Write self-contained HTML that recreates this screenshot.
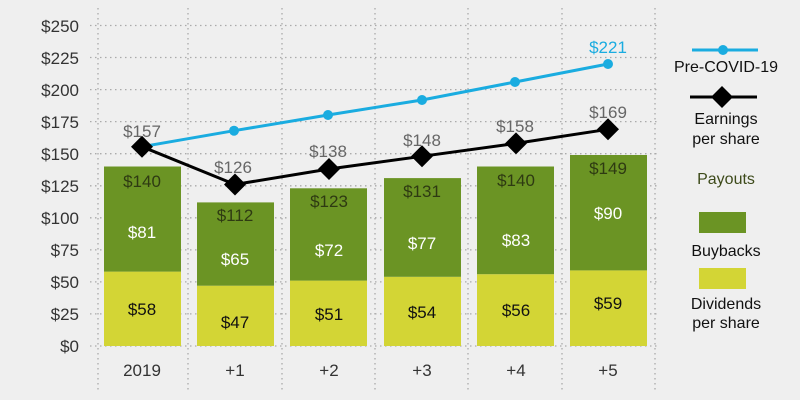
<!DOCTYPE html>
<html><head><meta charset="utf-8"><style>
html,body{margin:0;padding:0;background:#efefef;}
svg{display:block;font-family:"Liberation Sans",sans-serif;}
</style></head><body>
<svg width="800" height="400" viewBox="0 0 800 400" xmlns="http://www.w3.org/2000/svg">
<rect width="800" height="400" fill="#efefef"/>
<g stroke="#aaa" stroke-width="1.3" stroke-dasharray="1.5,3.5">
<line x1="90" y1="346" x2="658" y2="346"/>
<line x1="90" y1="313.9" x2="658" y2="313.9"/>
<line x1="90" y1="281.9" x2="658" y2="281.9"/>
<line x1="90" y1="249.9" x2="658" y2="249.9"/>
<line x1="90" y1="217.8" x2="658" y2="217.8"/>
<line x1="90" y1="185.8" x2="658" y2="185.8"/>
<line x1="90" y1="153.7" x2="658" y2="153.7"/>
<line x1="90" y1="121.6" x2="658" y2="121.6"/>
<line x1="90" y1="89.6" x2="658" y2="89.6"/>
<line x1="90" y1="57.5" x2="658" y2="57.5"/>
<line x1="90" y1="25.5" x2="658" y2="25.5"/>
<line x1="98" y1="8" x2="98" y2="390"/>
<line x1="188" y1="8" x2="188" y2="390"/>
<line x1="282" y1="8" x2="282" y2="390"/>
<line x1="375" y1="8" x2="375" y2="390"/>
<line x1="468" y1="8" x2="468" y2="390"/>
<line x1="562" y1="8" x2="562" y2="390"/>
<line x1="655" y1="8" x2="655" y2="390"/>
</g>
<g font-size="17" fill="#333" text-anchor="end">
<text x="79" y="352">$0</text>
<text x="79" y="320">$25</text>
<text x="79" y="288">$50</text>
<text x="79" y="256">$75</text>
<text x="79" y="224">$100</text>
<text x="79" y="192">$125</text>
<text x="79" y="160">$150</text>
<text x="79" y="128">$175</text>
<text x="79" y="96">$200</text>
<text x="79" y="64">$225</text>
<text x="79" y="32">$250</text>
</g>
<g font-size="17" fill="#333" text-anchor="middle">
<text x="142" y="376">2019</text>
<text x="235" y="376">+1</text>
<text x="329" y="376">+2</text>
<text x="422" y="376">+3</text>
<text x="516" y="376">+4</text>
<text x="608" y="376">+5</text>
</g>
<!-- bars -->
<g>
<rect x="104" y="271.6" width="77" height="74.4" fill="#d3d535"/>
<rect x="104" y="166.5" width="77" height="105.1" fill="#6b9424"/>
<rect x="197" y="285.7" width="77" height="60.3" fill="#d3d535"/>
<rect x="197" y="202.4" width="77" height="83.3" fill="#6b9424"/>
<rect x="290" y="280.6" width="77" height="65.4" fill="#d3d535"/>
<rect x="290" y="188.3" width="77" height="92.3" fill="#6b9424"/>
<rect x="384" y="276.8" width="77" height="69.2" fill="#d3d535"/>
<rect x="384" y="178.1" width="77" height="98.7" fill="#6b9424"/>
<rect x="477" y="274.2" width="77" height="71.8" fill="#d3d535"/>
<rect x="477" y="166.5" width="77" height="107.7" fill="#6b9424"/>
<rect x="570" y="270.4" width="77" height="75.6" fill="#d3d535"/>
<rect x="570" y="155" width="77" height="115.4" fill="#6b9424"/>
</g>
<g font-size="17" text-anchor="middle">
<g fill="#2e3a12">
<text x="142" y="187">$140</text>
<text x="235" y="221">$112</text>
<text x="329" y="207">$123</text>
<text x="422" y="197">$131</text>
<text x="516" y="186">$140</text>
<text x="608" y="174">$149</text>
</g>
<g fill="#fff">
<text x="142" y="238">$81</text>
<text x="235" y="265">$65</text>
<text x="329" y="256">$72</text>
<text x="422" y="249">$77</text>
<text x="516" y="246">$83</text>
<text x="608" y="219">$90</text>
</g>
<g fill="#111">
<text x="142" y="315">$58</text>
<text x="235" y="328">$47</text>
<text x="329" y="320">$51</text>
<text x="422" y="318">$54</text>
<text x="516" y="316">$56</text>
<text x="608" y="309">$59</text>
</g>
</g>
<!-- pre-covid line -->
<polyline points="142,146.7 234,130.7 328,115 422,100 515,82 608,64" fill="none" stroke="#1aace0" stroke-width="3"/>
<g fill="#1aace0">
<circle cx="234" cy="130.7" r="5"/><circle cx="328" cy="115" r="5"/><circle cx="422" cy="100" r="5"/><circle cx="515" cy="82" r="5"/><circle cx="608" cy="64" r="5"/>
</g>
<text x="608" y="53" font-size="17" fill="#1aace0" text-anchor="middle">$221</text>
<!-- earnings line -->
<polyline points="142,146.7 235,184.5 329,169 422,156.3 516,143.4 608,129.3" fill="none" stroke="#000" stroke-width="3"/>
<g fill="#000">
<path d="M142,135.7 L153,146.7 L142,157.7 L131,146.7Z"/>
<path d="M235,173.5 L246,184.5 L235,195.5 L224,184.5Z"/>
<path d="M329,158 L340,169 L329,180 L318,169Z"/>
<path d="M422,145.3 L433,156.3 L422,167.3 L411,156.3Z"/>
<path d="M516,132.4 L527,143.4 L516,154.4 L505,143.4Z"/>
<path d="M608,118.3 L619,129.3 L608,140.3 L597,129.3Z"/>
</g>
<g font-size="17" fill="#666" text-anchor="middle">
<text x="142" y="137">$157</text>
<text x="233" y="173">$126</text>
<text x="328" y="157">$138</text>
<text x="422" y="146">$148</text>
<text x="515" y="132">$158</text>
<text x="608" y="118">$169</text>
</g>
<!-- legend -->
<line x1="692" y1="50" x2="758" y2="50" stroke="#1aace0" stroke-width="3"/>
<circle cx="723" cy="50" r="5" fill="#1aace0"/>
<text x="726" y="72" font-size="16" fill="#111" text-anchor="middle">Pre-COVID-19</text>
<line x1="690" y1="97" x2="757" y2="97" stroke="#000" stroke-width="3"/>
<path d="M722,86 L733,97 L722,108 L711,97Z" fill="#000"/>
<text x="726" y="124" font-size="16" fill="#111" text-anchor="middle">Earnings</text>
<text x="726" y="144" font-size="16" fill="#111" text-anchor="middle">per share</text>
<text x="726" y="184" font-size="16" fill="#3d4a1a" text-anchor="middle">Payouts</text>
<rect x="699" y="212" width="47" height="21" fill="#6b9424"/>
<text x="726" y="256" font-size="16" fill="#111" text-anchor="middle">Buybacks</text>
<rect x="699" y="268" width="47" height="21" fill="#d3d535"/>
<text x="726" y="309" font-size="16" fill="#111" text-anchor="middle">Dividends</text>
<text x="726" y="328" font-size="16" fill="#111" text-anchor="middle">per share</text>
</svg>
</body></html>
